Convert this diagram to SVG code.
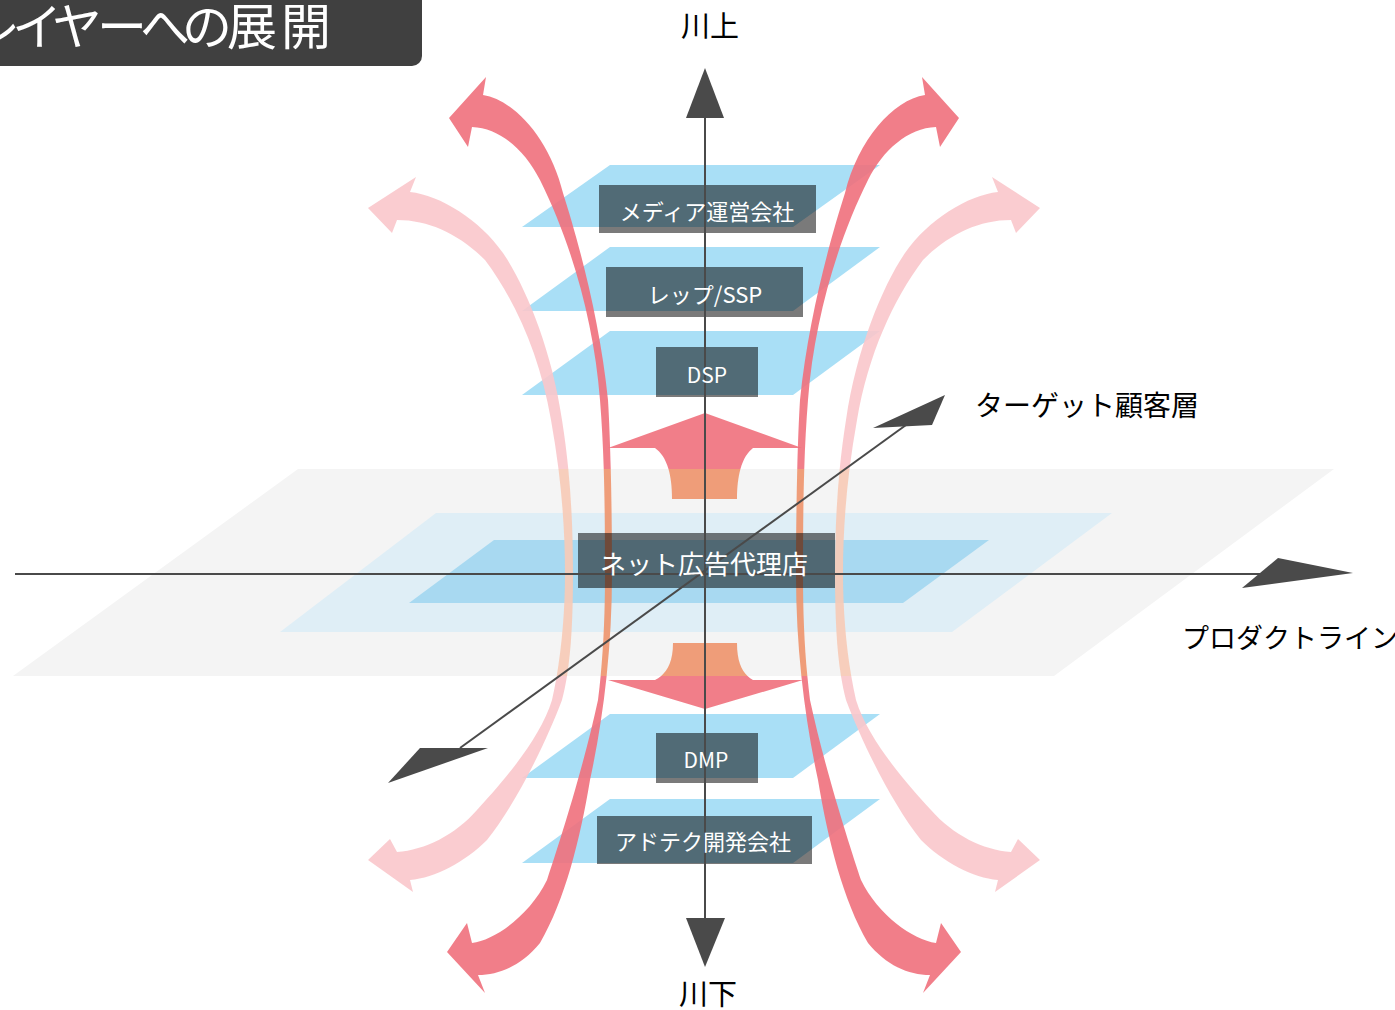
<svg xmlns="http://www.w3.org/2000/svg" xmlns:xlink="http://www.w3.org/1999/xlink" width="1395" height="1010" viewBox="0 0 1395 1010">
<style>
  text { font-family: "Noto Sans CJK JP", "Liberation Sans", sans-serif; }
  .label { fill: #000; }
  .boxtext { fill: #fff; text-anchor: middle; }
  .box { fill: #000; fill-opacity: 0.52; }
  .sp { fill: #a9dff6; }
  .pale { fill: #f9c6cb; opacity: 0.9; }
  .paleO { fill: #f7cab6; opacity: 0.9; }
  .bold { fill: #ef707c; opacity: 0.9; }
  .boldO { fill: #ee946b; opacity: 0.9; }
  .axis { stroke: #4a4a4a; stroke-width: 2; fill: none; }
  .head { fill: #4a4a4a; }
</style>
<defs>
  <path id="boldL" d="M483,95 C515,100 550,140 563,193 C578,240 600,320 608,400 C611,450 612,520 612,574 C612,650 603,720 590,780 C580,840 565,900 540,943 C522,965 500,975 478,975 L485,993 L447,952 L467,923 L472,943 C495,940 530,915 547,880 C557,850 583,770 598,700 C603,660 605,620 605,574 C605,500 604,450 600,400 C594,320 570,240 540,180 C525,150 500,128 472,127 L468,147 L449,118 L486,77 Z"/>
  <path id="paleL" d="M410,192 C440,195 480,220 503,253 C525,285 552,350 562,420 C570,470 573,520 573,574 C573,630 570,670 562,700 C545,745 515,805 487,840 C465,862 435,878 410,880 L413,892 L368,860 L390,839 L397,852 C425,850 455,835 477,810 C500,785 540,740 552,700 C560,665 565,620 565,574 C565,520 560,470 551,420 C540,355 515,300 485,260 C460,235 430,220 397,220 L392,233 L368,208 L416,177 Z"/>
  <path id="upArrow" d="M705,413 L802,448 L753,448 C744,455 737,470 737,499 L672,499 C672,470 665,455 655,448 L608,448 Z"/>
  <path id="downArrow" d="M673,643 L737,643 C737,665 744,675 753,680 L803,680 L705,709 L608,680 L655,680 C665,675 673,665 673,643 Z"/>
  <clipPath id="outBand" clipPathUnits="userSpaceOnUse">
    <rect x="-300" y="-20" width="2000" height="489"/>
    <rect x="-300" y="676" width="2000" height="400"/>
  </clipPath>
  <clipPath id="inBand" clipPathUnits="userSpaceOnUse">
    <rect x="-300" y="469" width="2000" height="207"/>
  </clipPath>
</defs>

<rect width="1395" height="1010" fill="#ffffff"/>

<g id="title">
  <rect x="-12" y="-12" width="434" height="78" rx="10" ry="10" fill="#404040"/>
  <text x="-30 12 52 97 140 182 227 281" y="45" font-size="50" fill="#ffffff">レイヤーへの展開</text>
</g>

<g id="planes">
  <polygon points="298,469 1334,469 1054,676 13,676" fill="#f4f4f4"/>
  <polygon points="436,513 1112,513 952,632 280,632" fill="#dfeef6"/>
  <polygon points="494,540 989,540 903,603 409,603" fill="#a8d9f1"/>
  <polygon class="sp" points="610,165 880,165 793,227 522,227"/>
  <polygon class="sp" points="610,247 880,247 793,311 522,311"/>
  <polygon class="sp" points="610,331 880,331 793,395 522,395"/>
  <polygon class="sp" points="610,714 880,714 793,778 522,778"/>
  <polygon class="sp" points="610,799 880,799 793,863 522,863"/>
</g>

<g id="flow-arrows">
  <g clip-path="url(#outBand)">
    <use xlink:href="#paleL" class="pale"/>
    <use xlink:href="#paleL" class="pale" transform="translate(1408,0) scale(-1,1)"/>
    <use xlink:href="#boldL" class="bold"/>
    <use xlink:href="#boldL" class="bold" transform="translate(1408,0) scale(-1,1)"/>
    <use xlink:href="#upArrow" class="bold"/>
    <use xlink:href="#downArrow" class="bold"/>
  </g>
  <g clip-path="url(#inBand)">
    <use xlink:href="#paleL" class="paleO"/>
    <use xlink:href="#paleL" class="paleO" transform="translate(1408,0) scale(-1,1)"/>
    <use xlink:href="#boldL" class="boldO"/>
    <use xlink:href="#boldL" class="boldO" transform="translate(1408,0) scale(-1,1)"/>
    <use xlink:href="#upArrow" class="boldO"/>
    <use xlink:href="#downArrow" class="boldO"/>
  </g>
</g>

<g id="node-media"><rect class="box" x="599" y="185" width="217" height="48"/></g>
<g id="node-rep"><rect class="box" x="606" y="267" width="197" height="50"/></g>
<g id="node-dsp"><rect class="box" x="656" y="347" width="102" height="50"/></g>
<g id="node-agency"><rect class="box" x="578" y="533" width="257" height="55"/></g>
<g id="node-dmp"><rect class="box" x="656" y="733" width="102" height="50"/></g>
<g id="node-adtech"><rect class="box" x="597" y="816" width="215" height="48"/></g>

<g id="connectors">
  <line class="axis" x1="705" y1="114" x2="705" y2="922"/>
  <polygon class="head" points="705,68 724,118 686,118"/>
  <polygon class="head" points="686,918 725,918 705,967"/>
  <line class="axis" x1="15" y1="574" x2="1262" y2="574"/>
  <polygon class="head" points="1242,588 1278,558 1353,573"/>
  <line class="axis" x1="460" y1="748" x2="906" y2="425" stroke-width="1.5"/>
  <polygon class="head" points="945,395 932,425 873,428"/>
  <polygon class="head" points="388,783 420,748 488,748"/>
</g>

<g id="labels">
  <text class="boxtext" x="707" y="220" font-size="22">メディア運営会社</text>
  <text class="boxtext" x="705" y="303" font-size="22">レップ/SSP</text>
  <text class="boxtext" x="707" y="383" font-size="21">DSP</text>
  <text class="boxtext" x="704" y="574" font-size="26">ネット広告代理店</text>
  <text class="boxtext" x="706" y="768" font-size="21">DMP</text>
  <text class="boxtext" x="703" y="850" font-size="22">アドテク開発会社</text>
  <text class="label" x="710" y="37" font-size="29" text-anchor="middle">川上</text>
  <text class="label" x="708" y="1005" font-size="29" text-anchor="middle">川下</text>
  <text class="label" x="975" y="416" font-size="28">ターゲット顧客層</text>
  <text class="label" x="1182" y="648" font-size="27">プロダクトライン</text>
</g>
</svg>
